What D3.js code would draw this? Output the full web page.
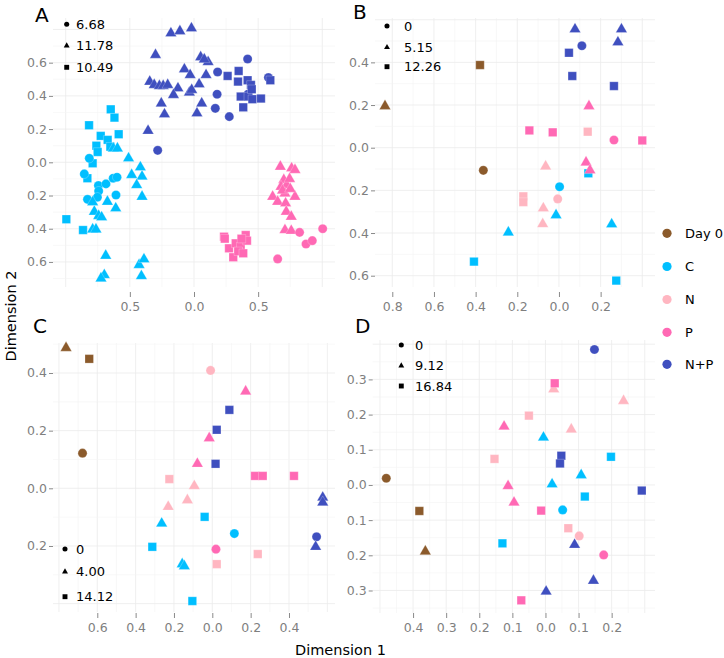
<!DOCTYPE html>
<html>
<head>
<meta charset="utf-8">
<script src="https://cdn.jsdelivr.net/npm/d3@7"></script>
<style>
  body { margin: 0; background: #fff; }
  text { font-family: "DejaVu Sans", sans-serif; }
</style>
</head>
<body>
<div class="chartContainer"></div>
<script>
var groups       = ["Day 0", "C", "N", "P", "N+P"],
    groupColours = ["#8B5A2B", "#00BFFF", "#FFB6C1", "#FF69B4", "#3F4FBF"],
    shapeKeys    = ["circle", "triangle", "square"];

// values shown next to the three shapes in each panel
var shapeLabelsA = ["6.68", "11.78", "10.49"],
    shapeLabelsB = ["0", "5.15", "12.26"],
    shapeLabelsC = ["0", "4.00", "14.12"],
    shapeLabelsD = ["0", "9.12", "16.84"];

var xTicksA = [-0.5, 0, 0.5],
    yTicksA = [-0.6, -0.4, -0.2, 0, 0.2, 0.4, 0.6],
    xTicksB = [-0.8, -0.6, -0.4, -0.2, 0, 0.2],
    yTicksB = [-0.6, -0.4, -0.2, 0, 0.2, 0.4],
    xTicksC = [-0.6, -0.4, -0.2, 0, 0.2, 0.4],
    yTicksC = [-0.2, 0, 0.2, 0.4],
    xTicksD = [-0.4, -0.3, -0.2, -0.1, 0, 0.1, 0.2],
    yTicksD = [-0.3, -0.2, -0.1, 0, 0.1, 0.2, 0.3];

// [group, shape, dimension 1, dimension 2]
var pointsA = [
  ["C","square",-0.649,0.319],["C","square",-0.62,0.269],["C","square",-0.818,0.223],["C","square",-0.727,0.159],
  ["C","square",-0.673,0.135],["C","square",-0.652,0.094],["C","square",-0.587,0.169],["C","square",-0.761,0.10],
  ["C","square",-0.751,0.062],["C","square",-0.79,-0.006],["C","square",-0.831,-0.096],["C","square",-0.995,-0.343],
  ["C","square",-0.865,-0.408],
  ["C","circle",-0.816,0.024],["C","circle",-0.855,-0.07],["C","circle",-0.745,-0.14],["C","circle",-0.686,-0.13],
  ["C","circle",-0.63,-0.096],["C","circle",-0.60,-0.09],["C","circle",-0.743,-0.173],["C","circle",-0.753,-0.21],
  ["C","circle",-0.83,-0.223],["C","circle",-0.608,-0.197],
  ["C","triangle",-0.629,0.084],["C","triangle",-0.597,0.084],["C","triangle",-0.51,0.024],["C","triangle",-0.418,-0.03],
  ["C","triangle",-0.405,-0.086],["C","triangle",-0.486,-0.076],["C","triangle",-0.447,-0.137],["C","triangle",-0.405,-0.207],
  ["C","triangle",-0.675,-0.237],["C","triangle",-0.61,-0.277],["C","triangle",-0.79,-0.24],["C","triangle",-0.777,-0.297],
  ["C","triangle",-0.743,-0.323],["C","triangle",-0.72,-0.331],["C","triangle",-0.79,-0.404],["C","triangle",-0.764,-0.404],
  ["C","triangle",-0.688,-0.562],["C","triangle",-0.699,-0.679],["C","triangle",-0.725,-0.699],["C","triangle",-0.428,-0.618],
  ["C","triangle",-0.39,-0.584],["C","triangle",-0.41,-0.685],
  ["P","triangle",0.673,-0.026],["P","triangle",0.761,-0.036],["P","triangle",0.787,-0.046],["P","triangle",0.70,-0.106],
  ["P","triangle",0.678,-0.147],["P","triangle",0.722,-0.137],["P","triangle",0.613,-0.207],["P","triangle",0.652,-0.237],
  ["P","triangle",0.709,-0.187],["P","triangle",0.787,-0.207],["P","triangle",0.714,-0.247],["P","triangle",0.719,-0.297],
  ["P","triangle",0.758,-0.327],["P","triangle",0.709,-0.408],["P","triangle",0.758,-0.412],["P","triangle",0.745,-0.10],
  ["P","triangle",0.69,-0.17],["P","triangle",0.75,-0.16],
  ["P","circle",0.823,-0.422],["P","circle",0.873,-0.492],["P","circle",0.922,-0.472],["P","circle",1.003,-0.40],
  ["P","circle",0.652,-0.582],
  ["P","square",0.234,-0.448],["P","square",0.273,-0.518],["P","square",0.306,-0.572],["P","square",0.325,-0.488],
  ["P","square",0.364,-0.508],["P","square",0.403,-0.438],["P","square",0.413,-0.472],["P","square",0.345,-0.536],
  ["P","square",0.384,-0.548],["P","square",0.24,-0.46],["P","square",0.37,-0.46],
  ["N+P","triangle",-0.18,0.777],["N+P","triangle",-0.11,0.79],["N+P","triangle",-0.02,0.807],["N+P","triangle",-0.30,0.647],
  ["N+P","triangle",-0.345,0.486],["N+P","triangle",-0.31,0.466],["N+P","triangle",-0.27,0.46],["N+P","triangle",-0.24,0.46],
  ["N+P","triangle",-0.205,0.466],["N+P","triangle",-0.125,0.446],["N+P","triangle",-0.16,0.406],["N+P","triangle",-0.255,0.355],
  ["N+P","triangle",-0.23,0.289],["N+P","triangle",-0.075,0.56],["N+P","triangle",-0.03,0.526],["N+P","triangle",0.052,0.633],
  ["N+P","triangle",0.11,0.604],["N+P","triangle",0.094,0.526],["N+P","triangle",0.04,0.47],["N+P","triangle",-0.036,0.42],
  ["N+P","triangle",-0.018,0.436],["N+P","triangle",0.06,0.355],["N+P","triangle",0.023,0.295],["N+P","triangle",-0.358,0.19],
  ["N+P","triangle",0.08,0.62],
  ["N+P","circle",0.418,0.622],["N+P","circle",0.184,0.544],["N+P","circle",0.18,0.41],["N+P","circle",0.166,0.325],
  ["N+P","circle",0.275,0.275],["N+P","circle",0.58,0.51],["N+P","circle",-0.283,0.072],["N+P","circle",0.42,0.41],
  ["N+P","square",0.262,0.52],["N+P","square",0.348,0.55],["N+P","square",0.343,0.486],["N+P","square",0.418,0.494],
  ["N+P","square",0.444,0.466],["N+P","square",0.595,0.494],["N+P","square",0.364,0.396],["N+P","square",0.423,0.396],
  ["N+P","square",0.455,0.38],["N+P","square",0.522,0.384],["N+P","square",0.384,0.331],["N+P","square",0.45,0.44]
];

var pointsB = [
  ["Day 0","square",-0.379,0.3875],["Day 0","triangle",-0.835,0.195],["Day 0","circle",-0.363,-0.106],
  ["C","square",0.141,-0.12],["C","circle",0.003,-0.183],["C","triangle",-0.014,-0.316],["C","triangle",-0.243,-0.397],
  ["C","triangle",0.253,-0.359],["C","square",-0.408,-0.534],["C","square",0.275,-0.623],
  ["N","square",0.138,0.075],["N","triangle",-0.064,-0.0875],["N","square",-0.171,-0.228],["N","square",-0.171,-0.255],
  ["N","circle",-0.006,-0.24],["N","triangle",-0.075,-0.284],["N","triangle",-0.078,-0.358],
  ["P","triangle",0.144,0.195],["P","square",-0.142,0.081],["P","square",-0.03,0.072],["P","circle",0.264,0.036],
  ["P","square",0.40,0.034],["P","triangle",0.13,-0.069],["P","triangle",0.149,-0.106],
  ["N+P","triangle",0.077,0.555],["N+P","triangle",0.30,0.555],["N+P","triangle",0.283,0.494],["N+P","circle",0.11,0.478],
  ["N+P","square",0.048,0.445],["N+P","square",0.064,0.336],["N+P","square",0.264,0.289]
];

var pointsC = [
  ["Day 0","triangle",-0.763,0.487],["Day 0","square",-0.642,0.449],["Day 0","circle",-0.677,0.122],
  ["C","square",-0.04,-0.099],["C","triangle",-0.264,-0.122],["C","circle",0.115,-0.157],["C","square",-0.313,-0.203],
  ["C","triangle",-0.157,-0.263],["C","triangle",-0.146,-0.27],["C","square",-0.104,-0.391],
  ["N","circle",-0.009,0.409],["N","square",-0.224,0.032],["N","triangle",-0.094,0.008],["N","triangle",-0.13,-0.041],
  ["N","triangle",-0.23,-0.064],["N","square",0.237,-0.228],["N","square",0.023,-0.263],
  ["P","triangle",0.174,0.336],["P","triangle",-0.016,0.174],["P","triangle",-0.078,0.085],["P","square",0.223,0.043],
  ["P","square",0.263,0.043],["P","square",0.426,0.043],["P","circle",0.019,-0.211],
  ["N+P","square",0.089,0.272],["N+P","square",0.023,0.203],["N+P","square",0.017,0.085],["N+P","triangle",0.576,-0.032],
  ["N+P","triangle",0.576,-0.049],["N+P","circle",0.544,-0.168],["N+P","triangle",0.539,-0.203]
];

var pointsD = [
  ["Day 0","circle",-0.481,0.019],["Day 0","square",-0.381,-0.074],["Day 0","triangle",-0.363,-0.189],
  ["C","triangle",-0.006,0.135],["C","square",0.198,0.080],["C","triangle",0.108,0.028],["C","triangle",0.02,0.002],
  ["C","square",0.119,-0.033],["C","circle",0.052,-0.071],["C","square",-0.13,-0.166],
  ["N","triangle",0.025,0.272],["N","triangle",0.236,0.239],["N","square",-0.05,0.197],["N","triangle",0.078,0.158],
  ["N","square",-0.154,0.074],["N","square",0.069,-0.123],["N","circle",0.102,-0.145],
  ["P","square",0.028,0.289],["P","triangle",-0.125,0.166],["P","triangle",-0.113,-0.003],["P","triangle",-0.095,-0.050],
  ["P","square",-0.013,-0.073],["P","circle",0.176,-0.199],["P","square",-0.073,-0.328],
  ["N+P","circle",0.148,0.385],["N+P","square",0.048,0.083],["N+P","square",0.044,0.061],["N+P","square",0.291,-0.016],
  ["N+P","triangle",0.088,-0.170],["N+P","triangle",0.145,-0.272],["N+P","triangle",0.002,-0.303]
];

// panel boxes and scales, in pixels
var panels = [
  { name: "A", points: pointsA, keys: shapeLabelsA, xTicks: xTicksA, yTicks: yTicksA,
    left: 53, right: 335, top: 18, bottom: 287, axisY: 292,
    xDomain: [-1.099, 1.099], yDomain: [-0.751, 0.869], xStep: 0.25, yStep: 0.1,
    letter: [35, 22], keyX: 66.7, keyTextX: 76, keyY: [24.3, 45.7, 67.3] },
  { name: "B", points: pointsB, keys: shapeLabelsB, xTicks: xTicksB, yTicks: yTicksB,
    left: 375, right: 655, top: 18, bottom: 287, axisY: 292,
    xDomain: [-0.883, 0.461], yDomain: [-0.653, 0.608], xStep: 0.1, yStep: 0.1,
    letter: [353, 19], keyX: 387, keyTextX: 404, keyY: [26, 47.3, 66.7] },
  { name: "C", points: pointsC, keys: shapeLabelsC, xTicks: xTicksC, yTicks: yTicksC,
    left: 53, right: 335, top: 343, bottom: 612, axisY: 613,
    xDomain: [-0.831, 0.640], yDomain: [-0.429, 0.504], xStep: 0.1, yStep: 0.1,
    letter: [33, 333], keyX: 65, keyTextX: 76, keyY: [549, 571.7, 596.7] },
  { name: "D", points: pointsD, keys: shapeLabelsD, xTicks: xTicksD, yTicks: yTicksD,
    left: 372.7, right: 655, top: 340, bottom: 613, axisY: 613,
    xDomain: [-0.522, 0.331], yDomain: [-0.364, 0.412], xStep: 0.05, yStep: 0.05,
    letter: [355, 333], keyX: 401.3, keyTextX: 415, keyY: [345, 365.7, 386] }
];

var colour = d3.scaleOrdinal().domain(groups).range(groupColours);
var symbolTypes = { circle: d3.symbolCircle, triangle: d3.symbolTriangle, square: d3.symbolSquare },
    markSizes   = { circle: 66, triangle: 56, square: 72 },
    keySizes    = { circle: 20, triangle: 15, square: 24 };

var tickFormat = function (d) { return Math.abs(d).toFixed(1); };

var svg = d3.select(".chartContainer")
  .append("svg")
  .attr("width", 724)
  .attr("height", 658);

panels.forEach(function (p) {
  var x = d3.scaleLinear().domain(p.xDomain).range([p.left, p.right]);
  var y = d3.scaleLinear().domain(p.yDomain).range([p.bottom, p.top]);
  var g = svg.append("g");

  // grid: every half step, with whole steps a bit darker
  var gridVals = function (dom, step) {
    return d3.range(Math.ceil(dom[0] / step - 1e-9), Math.floor(dom[1] / step + 1e-9) + 1)
      .map(function (i) { return { v: i * step, major: i % 2 === 0 }; });
  };
  g.selectAll(".vgrid")
    .data(gridVals(p.xDomain, p.xStep))
    .enter().append("line")
      .attr("x1", function (d) { return x(d.v); })
      .attr("x2", function (d) { return x(d.v); })
      .attr("y1", p.top)
      .attr("y2", p.bottom)
      .attr("stroke", function (d) { return d.major ? "#ebebeb" : "#f4f4f4"; })
      .attr("stroke-width", function (d) { return d.major ? 0.8 : 0.6; });
  g.selectAll(".hgrid")
    .data(gridVals(p.yDomain, p.yStep))
    .enter().append("line")
      .attr("y1", function (d) { return y(d.v); })
      .attr("y2", function (d) { return y(d.v); })
      .attr("x1", p.left)
      .attr("x2", p.right)
      .attr("stroke", function (d) { return d.major ? "#ebebeb" : "#f4f4f4"; })
      .attr("stroke-width", function (d) { return d.major ? 0.8 : 0.6; });

  var xAxis = g.append("g")
    .attr("transform", "translate(0," + p.axisY + ")")
    .call(d3.axisBottom(x).tickValues(p.xTicks).tickSize(5).tickPadding(5).tickFormat(tickFormat));
  var yAxis = g.append("g")
    .attr("transform", "translate(" + p.left + ",0)")
    .call(d3.axisLeft(y).tickValues(p.yTicks).tickSize(4).tickPadding(2).tickFormat(tickFormat));
  [xAxis, yAxis].forEach(function (a) {
    a.select(".domain").remove();
    a.selectAll("line").attr("stroke", "#8a8a8a");
    a.selectAll("text")
      .attr("fill", "#7f7f7f")
      .style("font-size", "12.5px")
      .style("font-family", "DejaVu Sans");
  });

  g.selectAll(".mark")
    .data(p.points)
    .enter().append("path")
      .attr("transform", function (d) { return "translate(" + x(d[2]) + "," + y(d[3]) + ")"; })
      .attr("d", function (d) { return d3.symbol().type(symbolTypes[d[1]]).size(markSizes[d[1]])(); })
      .attr("fill", function (d) { return colour(d[0]); })
      .attr("stroke", "#fff")
      .attr("stroke-opacity", 0.6)
      .attr("stroke-width", 0.4);

  // shape key inside the panel
  g.selectAll(".keyMark")
    .data(shapeKeys)
    .enter().append("path")
      .attr("transform", function (d, i) { return "translate(" + p.keyX + "," + p.keyY[i] + ")"; })
      .attr("d", function (d) { return d3.symbol().type(symbolTypes[d]).size(keySizes[d])(); })
      .attr("fill", "#000");
  g.selectAll(".keyText")
    .data(p.keys)
    .enter().append("text")
      .attr("x", p.keyTextX)
      .attr("y", function (d, i) { return p.keyY[i]; })
      .attr("dy", "0.36em")
      .style("font-size", "13px")
      .text(function (d) { return d; });

  g.append("text")
    .attr("x", p.letter[0])
    .attr("y", p.letter[1])
    .style("font-size", "20px")
    .text(p.name);
});

// colour legend
var legendY = [233.3, 266.5, 299.5, 332.3, 364.3];
var legend = svg.append("g");
legend.selectAll("circle")
  .data(groups)
  .enter().append("circle")
    .attr("cx", 667)
    .attr("cy", function (d, i) { return legendY[i]; })
    .attr("r", 4.6)
    .attr("fill", function (d) { return colour(d); });
legend.selectAll("text")
  .data(groups)
  .enter().append("text")
    .attr("x", 685)
    .attr("y", function (d, i) { return legendY[i]; })
    .attr("dy", "0.36em")
    .style("font-size", "13px")
    .text(function (d) { return d; });

svg.append("text")
  .attr("x", 340.5)
  .attr("y", 655)
  .attr("text-anchor", "middle")
  .style("font-size", "14.5px")
  .text("Dimension 1");

svg.append("text")
  .attr("transform", "translate(16,316) rotate(-90)")
  .attr("text-anchor", "middle")
  .style("font-size", "14.5px")
  .text("Dimension 2");
</script>
</body>
</html>
